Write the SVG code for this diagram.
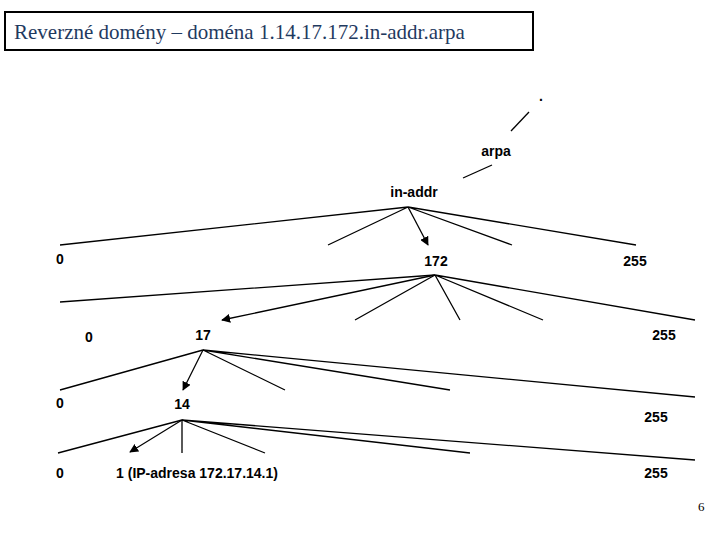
<svg xmlns="http://www.w3.org/2000/svg" width="720" height="540" viewBox="0 0 720 540">
<defs>
<marker id="ah" viewBox="0 0 10 10" refX="9" refY="5" markerWidth="9" markerHeight="9" orient="auto" markerUnits="userSpaceOnUse"><path d="M0,0L10,5L0,10z" fill="#000"/></marker>
</defs>
<style>
.l{stroke:#000;stroke-width:1.3;fill:none}
.a{stroke:#000;stroke-width:1.3;fill:none;marker-end:url(#ah)}
.t{font-family:"Liberation Sans",Arial,sans-serif;font-weight:bold;font-size:14px;fill:#000}
</style>
<rect width="720" height="540" fill="#fff"/>
<rect x="5" y="12" width="528" height="38" fill="#fff" stroke="#000" stroke-width="2"/>
<text x="14" y="39" font-family="Liberation Serif,serif" font-size="21" fill="#1f3a5f">Reverzné domény – doména 1.14.17.172.in-addr.arpa</text>
<g id="connectors">
<path class="l" d="M529,112L511,131"/>
<path class="l" d="M492,165L463,178"/>
<path class="l" d="M408,207L60,245M408,207L328,245M408,207L512,245M408,207L636,245"/>
<path class="a" d="M408,207L428,245"/>
<path class="l" d="M435,275L60,302M435,275L355,320M435,275L460,320M435,275L543,320M435,275L695,320"/>
<path class="a" d="M435,275L222,320"/>
<path class="l" d="M203,350L60,390M203,350L285,390M203,350L450,390M203,350L695,397"/>
<path class="a" d="M203,350L183,390"/>
<path class="l" d="M182,420L58,453M182,420L182,453M182,420L265,453M182,420L470,453M182,420L695,460"/>
<path class="a" d="M182,420L130,452"/>
</g>
<g id="root"><text class="t" x="541" y="101" text-anchor="middle" font-size="18">.</text></g>
<g id="arpa"><text class="t" x="496" y="156" text-anchor="middle">arpa</text></g>
<g id="in-addr"><text class="t" x="414" y="197" text-anchor="middle">in-addr</text></g>
<g id="n0a"><text class="t" x="60" y="264" text-anchor="middle">0</text></g>
<g id="n172"><text class="t" x="436" y="266" text-anchor="middle">172</text></g>
<g id="n255a"><text class="t" x="635" y="266" text-anchor="middle">255</text></g>
<g id="n0b"><text class="t" x="89" y="342" text-anchor="middle">0</text></g>
<g id="n17"><text class="t" x="203" y="340" text-anchor="middle">17</text></g>
<g id="n255b"><text class="t" x="664" y="340" text-anchor="middle">255</text></g>
<g id="n0c"><text class="t" x="60" y="408" text-anchor="middle">0</text></g>
<g id="n14"><text class="t" x="182" y="409" text-anchor="middle">14</text></g>
<g id="n255c"><text class="t" x="656" y="422" text-anchor="middle">255</text></g>
<g id="n0d"><text class="t" x="60" y="478" text-anchor="middle">0</text></g>
<g id="n1"><text class="t" x="197" y="478" text-anchor="middle">1 (IP-adresa 172.17.14.1)</text></g>
<g id="n255d"><text class="t" x="656" y="478" text-anchor="middle">255</text></g>
<text x="698" y="511" font-family="Liberation Serif,serif" font-size="13" fill="#000">6</text>
</svg>
